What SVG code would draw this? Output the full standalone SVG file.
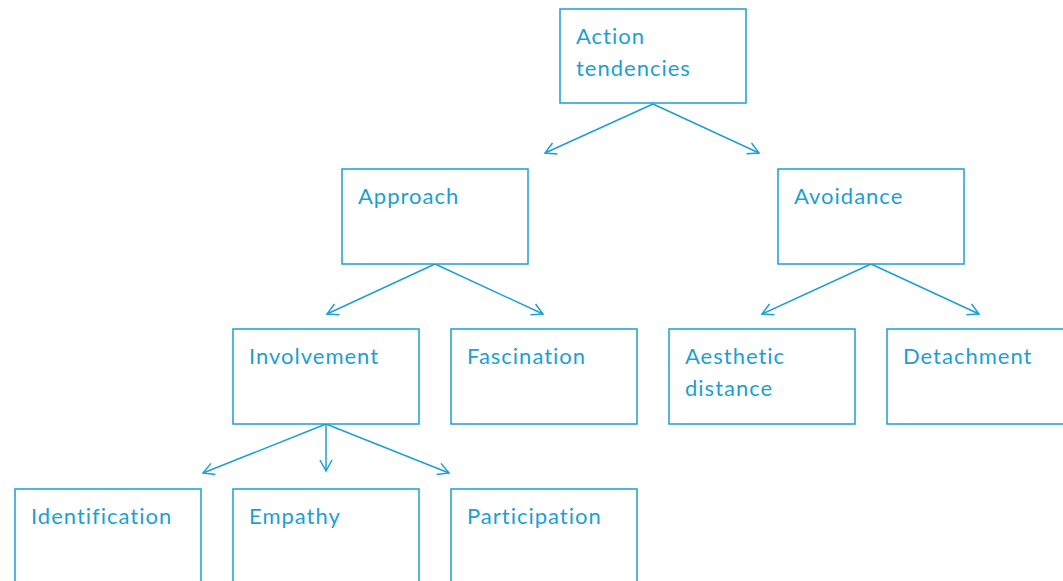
<svg xmlns="http://www.w3.org/2000/svg" width="1063" height="581" viewBox="0 0 1063 581">
<style>
.box{fill:#fff;stroke:#1b9fd5;stroke-width:1.5}
.t{font-family:Lato,"Noto Sans",sans-serif;font-size:22px;letter-spacing:1px;fill:#1b9fd5}
.c{stroke:#1b9fd5;stroke-width:1.5;fill:none;marker-end:url(#ah)}
</style>
<defs>
<marker id="ah" viewBox="-12 -7 14 14" markerWidth="14" markerHeight="14" refX="0" refY="0" orient="auto" markerUnits="userSpaceOnUse">
<path d="M-11,-6 L0,0 L-11,6" fill="none" stroke="#1b9fd5" stroke-width="1.5"/>
</marker>
</defs>
<rect width="1063" height="581" fill="#fff"/>
<g id="connectors">
<line class="c" x1="653" y1="104" x2="545" y2="153"/>
<line class="c" x1="653" y1="104" x2="759" y2="153"/>
<line class="c" x1="435" y1="264" x2="327" y2="314"/>
<line class="c" x1="435" y1="264" x2="543" y2="314"/>
<line class="c" x1="871" y1="264" x2="762" y2="314"/>
<line class="c" x1="871" y1="264" x2="979" y2="314"/>
<line class="c" x1="326" y1="424" x2="203" y2="473"/>
<line class="c" x1="326" y1="424" x2="326" y2="471"/>
<line class="c" x1="326" y1="424" x2="449" y2="473"/>
</g>
<g id="action"><rect class="box" x="560" y="9" width="186" height="94"/><text class="t" x="576" y="44">Action</text><text class="t" x="576" y="76">tendencies</text></g>
<g id="approach"><rect class="box" x="342" y="169" width="186" height="95"/><text class="t" x="358" y="204">Approach</text></g>
<g id="avoidance"><rect class="box" x="778" y="169" width="186" height="95"/><text class="t" x="794" y="204">Avoidance</text></g>
<g id="involvement"><rect class="box" x="233" y="329" width="186" height="95"/><text class="t" x="249" y="364">Involvement</text></g>
<g id="fascination"><rect class="box" x="451" y="329" width="186" height="95"/><text class="t" x="467" y="364">Fascination</text></g>
<g id="aesthetic"><rect class="box" x="669" y="329" width="186" height="95"/><text class="t" x="685" y="364">Aesthetic</text><text class="t" x="685" y="396">distance</text></g>
<g id="detachment"><rect class="box" x="887" y="329" width="186" height="95"/><text class="t" x="903" y="364">Detachment</text></g>
<g id="identification"><rect class="box" x="15" y="489" width="186" height="100"/><text class="t" x="31" y="524">Identification</text></g>
<g id="empathy"><rect class="box" x="233" y="489" width="186" height="100"/><text class="t" x="249" y="524">Empathy</text></g>
<g id="participation"><rect class="box" x="451" y="489" width="186" height="100"/><text class="t" x="467" y="524">Participation</text></g>
</svg>
